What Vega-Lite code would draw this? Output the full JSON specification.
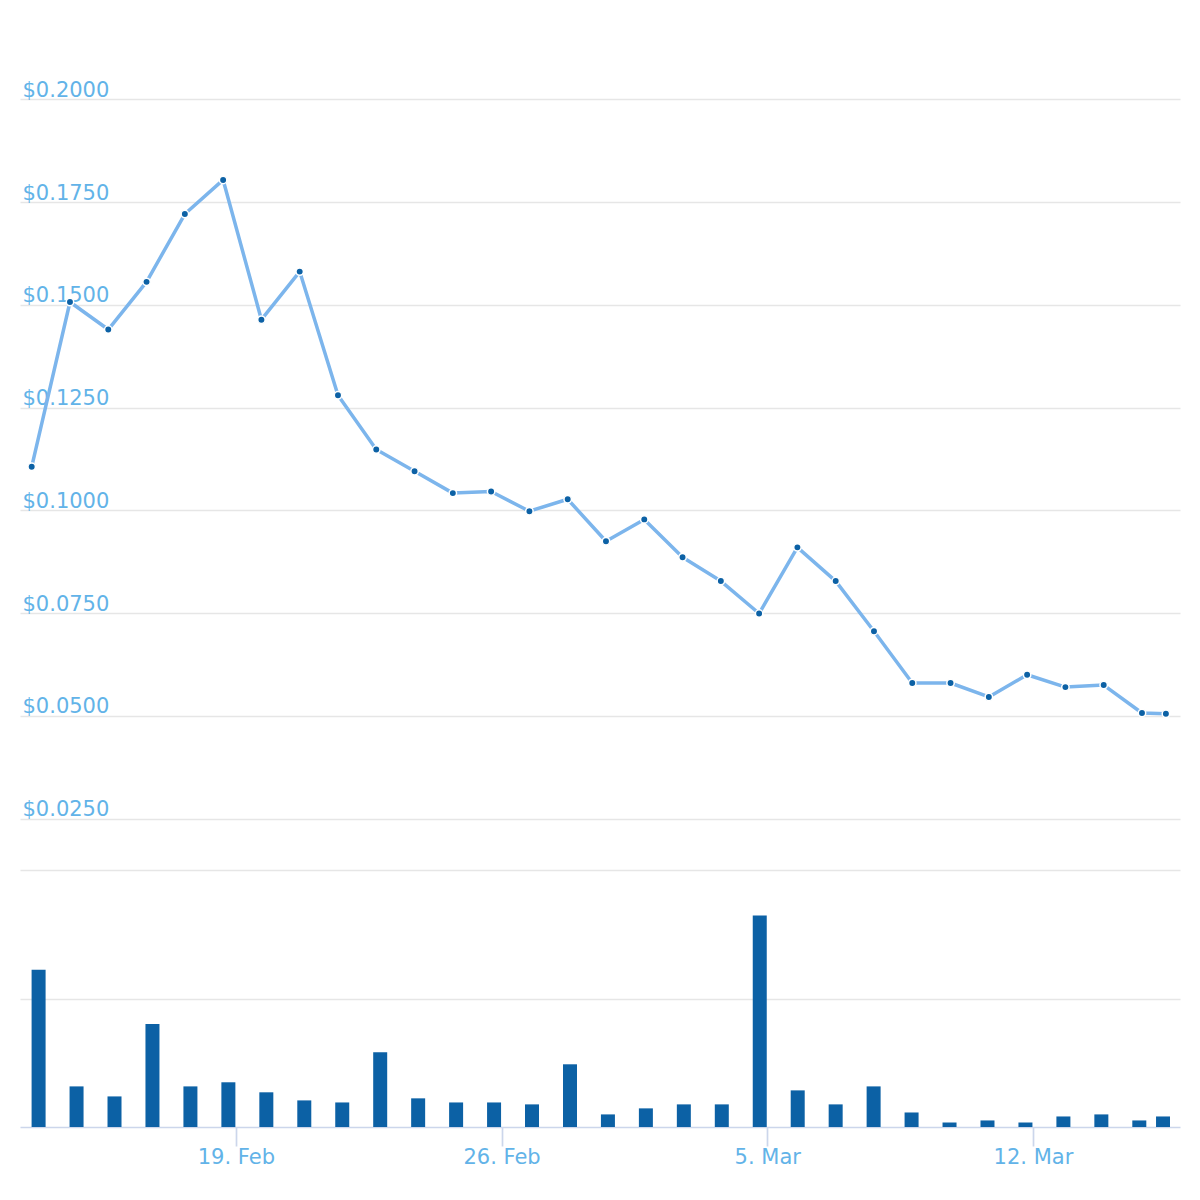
{
  "$schema": "https://vega.github.io/schema/vega-lite/v6.json",
  "padding": {"left": 20, "top": 48, "right": 20, "bottom": 0},
  "background": "white",
  "spacing": 0,
  "config": {
    "view": {"stroke": null},
    "axis": {"labelFont": "DejaVu Sans", "labelFontSize": 21, "labelColor": "#62b3e8", "gridColor": "#e6e6e6", "gridWidth": 1.6}
  },
  "datasets": {
    "d": [
      {"date": "2018-02-13T18:00", "price": 0.1106, "volume": 122.3},
      {"date": "2018-02-14T18:00", "price": 0.1507, "volume": 31.6},
      {"date": "2018-02-15T18:00", "price": 0.1440, "volume": 23.8},
      {"date": "2018-02-16T18:00", "price": 0.1556, "volume": 80.1},
      {"date": "2018-02-17T18:00", "price": 0.1721, "volume": 31.6},
      {"date": "2018-02-18T18:00", "price": 0.1804, "volume": 34.8},
      {"date": "2018-02-19T18:00", "price": 0.1464, "volume": 27.0},
      {"date": "2018-02-20T18:00", "price": 0.1581, "volume": 20.7},
      {"date": "2018-02-21T18:00", "price": 0.1280, "volume": 19.1},
      {"date": "2018-02-22T18:00", "price": 0.1148, "volume": 58.2},
      {"date": "2018-02-23T18:00", "price": 0.1095, "volume": 22.3},
      {"date": "2018-02-24T18:00", "price": 0.1042, "volume": 19.1},
      {"date": "2018-02-25T18:00", "price": 0.1046, "volume": 19.1},
      {"date": "2018-02-26T18:00", "price": 0.0998, "volume": 17.6},
      {"date": "2018-02-27T18:00", "price": 0.1027, "volume": 48.8},
      {"date": "2018-02-28T18:00", "price": 0.0925, "volume": 9.8},
      {"date": "2018-03-01T18:00", "price": 0.0978, "volume": 14.5},
      {"date": "2018-03-02T18:00", "price": 0.0886, "volume": 17.6},
      {"date": "2018-03-03T18:00", "price": 0.0828, "volume": 17.6},
      {"date": "2018-03-04T18:00", "price": 0.0749, "volume": 164.5},
      {"date": "2018-03-05T18:00", "price": 0.0910, "volume": 28.5},
      {"date": "2018-03-06T18:00", "price": 0.0828, "volume": 17.6},
      {"date": "2018-03-07T18:00", "price": 0.0706, "volume": 31.6},
      {"date": "2018-03-08T18:00", "price": 0.0580, "volume": 11.3},
      {"date": "2018-03-09T18:00", "price": 0.0580, "volume": 3.5},
      {"date": "2018-03-10T18:00", "price": 0.0546, "volume": 5.1},
      {"date": "2018-03-11T18:00", "price": 0.0600, "volume": 3.5},
      {"date": "2018-03-12T18:00", "price": 0.0570, "volume": 8.2},
      {"date": "2018-03-13T18:00", "price": 0.0575, "volume": 9.8},
      {"date": "2018-03-14T18:00", "price": 0.0507, "volume": 5.1},
      {"date": "2018-03-15T09:00", "price": 0.0505, "volume": 8.2}
    ]
  },
  "vconcat": [
    {
      "width": 1160,
      "height": 822,
      "data": {"name": "d"},
      "encoding": {
        "x": {"field": "date", "type": "temporal", "axis": null,
          "scale": {"nice": false, "domain": [{"year": 2018, "month": 2, "date": 13, "hours": 10, "minutes": 40}, {"year": 2018, "month": 3, "date": 15, "hours": 17, "minutes": 50}]}},
        "y": {"field": "price", "type": "quantitative",
          "scale": {"domain": [0.0125, 0.2125], "nice": false, "zero": false},
          "axis": {"values": [0.025, 0.05, 0.075, 0.1, 0.125, 0.15, 0.175, 0.2], "format": "$.4f", "orient": "left", "ticks": false, "domain": false, "labelAlign": "left", "labelBaseline": "alphabetic", "labelPadding": -2, "labelOffset": -3, "title": null, "grid": true}}
      },
      "layer": [
        {"mark": {"type": "line", "color": "#7cb5ec", "strokeWidth": 3.5, "strokeJoin": "round", "strokeCap": "round"}},
        {"mark": {"type": "point", "filled": true, "fill": "#0c61a5", "stroke": "white", "strokeWidth": 1.5, "size": 55, "opacity": 1}}
      ]
    },
    {
      "width": 1160,
      "height": 257,
      "data": {"name": "d"},
      "mark": {"type": "bar", "color": "#0c61a5", "size": 14, "xOffset": 2},
      "encoding": {
        "x": {"field": "date", "type": "temporal",
          "scale": {"nice": false, "domain": [{"year": 2018, "month": 2, "date": 13, "hours": 10, "minutes": 40}, {"year": 2018, "month": 3, "date": 15, "hours": 17, "minutes": 50}]},
          "axis": {"values": [{"year": 2018, "month": 2, "date": 19}, {"year": 2018, "month": 2, "date": 26}, {"year": 2018, "month": 3, "date": 5}, {"year": 2018, "month": 3, "date": 12}],
            "format": "%-d. %b", "title": null, "grid": false, "tickSize": 19, "tickColor": "#ccd6eb", "tickWidth": 1.7, "domainColor": "#ccd6eb", "domainWidth": 1.7, "labelBaseline": "alphabetic", "labelPadding": 17, "labelFlush": false, "labelOverlap": false}},
        "y": {"field": "volume", "type": "quantitative",
          "scale": {"domain": [0, 200], "nice": false},
          "axis": {"values": [100, 200], "labels": false, "ticks": false, "domain": false, "title": null, "grid": true}}
      }
    }
  ]
}
